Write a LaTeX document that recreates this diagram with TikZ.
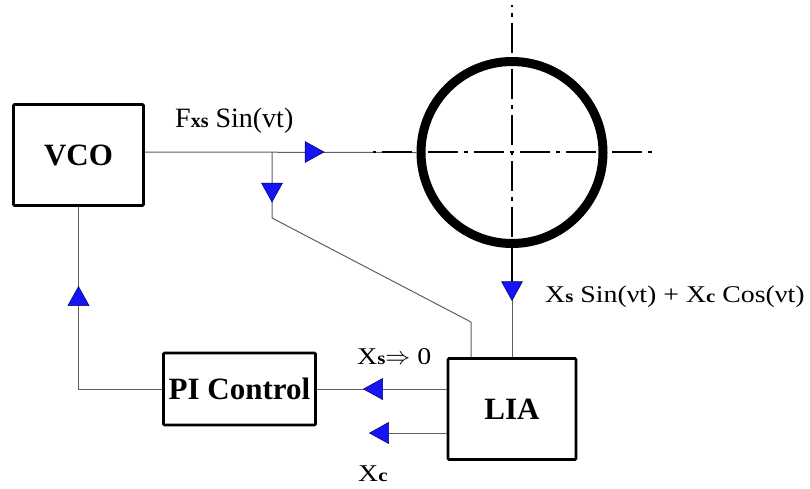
\documentclass[tikz,border=0pt]{standalone}
\usepackage{fontspec}
\setmainfont{Liberation Serif}
\newfontfamily\lblfont[FakeStretch=1.16]{Liberation Serif}
\definecolor{triblue}{RGB}{20,20,245}
\definecolor{linegray}{RGB}{95,95,95}
\newcommand{\smsub}[1]{{\bfseries\fontsize{18}{20}\selectfont #1}}
\begin{document}
\begin{tikzpicture}[x=1pt,y=-1pt,
  conn/.style={draw=linegray, line width=1pt},
  box/.style={draw, line width=2.6pt, rounded corners=1pt, inner sep=0pt,
    font=\fontsize{31}{36}\selectfont\bfseries},
  centerline/.style={line width=1.8pt, dash pattern=on 30pt off 6pt on 4pt off 6pt},
  lbl/.style={inner sep=0pt, anchor=base west},
  pics/tri/.style={code={\filldraw[fill=triblue, draw=black!60!blue, line width=0.5pt]
    (-9.5,-10.5) -- (9.5,0) -- (-9.5,10.5) -- cycle;}}
]
\useasboundingbox (0,0) rectangle (810,488);
\fill[white] (0,0) rectangle (810,488);

% boxes and ring
\node[box, minimum width=130pt, minimum height=101pt] (vco) at (78.5,155) {VCO};
\node[box, minimum width=152pt, minimum height=72pt] (pi) at (239.5,389) {PI Control};
\node[box, minimum width=128pt, minimum height=101pt] (lia) at (512,409) {LIA};
\node[circle, draw, line width=9pt, minimum size=182pt, inner sep=0pt] (ring) at (512,152.5) {};

% coordinates
\coordinate (j1) at (272,152);
\coordinate (b1) at (272,218);
\coordinate (b2) at (471,322);
\coordinate (xcend) at (370,433);
\coordinate (hl) at (373,152);
\coordinate (hr) at (652,152);
\coordinate (vt) at (512,5);
\coordinate (vb) at (512,248);
\coordinate (vs) at (512,284);

% connectors
\draw[conn] (vco.east |- j1) -- (ring.west);
\draw[conn] (j1) -- (b1) -- (b2) -- (b2 |- lia.north);
\draw[conn] (ring.south) -- (lia.north);
\draw[line width=1.5pt] (vb) -- (vs);
\draw[conn] (lia.west |- pi.east) -- (pi.east);
\draw[conn] (lia.west |- xcend) -- (xcend);
\draw[conn] (pi.west) -| (vco.south);

% center lines
\draw[centerline, dash phase=37pt] (hl) -- (hr);
\draw[centerline, dash phase=28.5pt] (vt) -- (vb);

% triangles
\pic at (314.5,152) {tri};
\pic[rotate=-90] at (272,192.5) {tri};
\pic[rotate=-90] at (512,291) {tri};
\pic[rotate=180] at (373,389) {tri};
\pic[rotate=180] at (379,433) {tri};
\pic[rotate=90] at (78.5,296) {tri};

% labels
\node[lbl, font=\fontsize{28}{32}\selectfont] (lf) at (175,127) {F{\bfseries\fontsize{20}{22}\selectfont xs} Sin(vt)};
\node[lbl, font=\fontsize{24}{28}\selectfont\lblfont] (lx) at (545,302) {X\smsub{s} Sin(νt) + X\smsub{c} Cos(νt)};
\node[lbl, font=\fontsize{24}{28}\selectfont\lblfont] (ls) at (357,364) {X\smsub{s}$\Rightarrow$ 0};
\node[lbl, font=\fontsize{24}{28}\selectfont\lblfont] (lc) at (358,481) {X\smsub{c}};
\end{tikzpicture}
\end{document}
